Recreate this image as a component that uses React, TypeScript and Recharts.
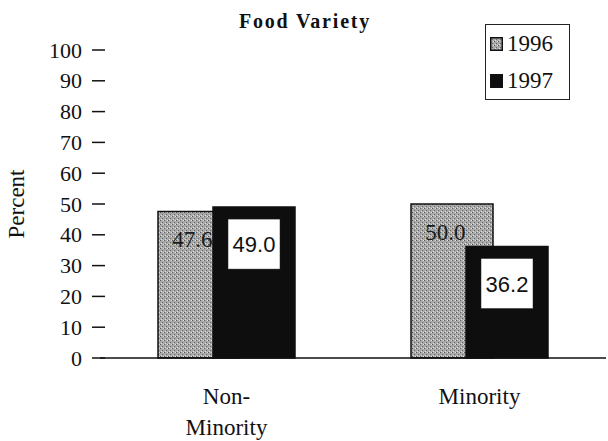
import { Bar, BarChart, Label, LabelList, Legend, XAxis, YAxis } from 'recharts'

const groups = ['Non-Minority', 'Minority']
const values1996 = [47.6, 50.0]
const values1997 = [49.0, 36.2]
const yTicks = [0, 10, 20, 30, 40, 50, 60, 70, 80, 90, 100]
const seriesNames = ['1996', '1997']

const SERIF = 'Liberation Serif'
const SANS = 'Liberation Sans'
const GRAY = '#9d9d9d'
const BLACK = '#0e0e0e'

const data = groups.map((g, i) => ({ group: g, y1996: values1996[i], y1997: values1997[i] }))

// y 눈금: 축 양쪽으로 걸친 짧은 가로선 + 오른쪽 정렬 숫자
function YTick(props: any) {
  const { x, y, payload } = props
  return (
    <g>
      <line x1={x - 8} x2={x + 5} y1={y} y2={y} stroke="#111" strokeWidth={1.5} />
      <text x={x - 18} y={y} dy={7.5} textAnchor="end" style={{ fontFamily: SERIF }} fontSize={22} fill="#111">
        {payload.value}
      </text>
    </g>
  )
}

// 카테고리 라벨: 하이픈 뒤에서 줄바꿈
function XTick(props: any) {
  const { x, y, payload } = props
  const s = String(payload.value)
  const k = s.indexOf('-')
  const lines = k >= 0 ? [s.slice(0, k + 1), s.slice(k + 1)] : [s]
  return (
    <g>
      {lines.map((ln, i) => (
        <text
          key={i}
          x={x}
          y={y + 46 + i * 31}
          textAnchor="middle"
          style={{ fontFamily: SERIF }}
          fontSize={23}
          fill="#111"
        >
          {ln}
        </text>
      ))}
    </g>
  )
}

function Label1996(props: any) {
  const { x, y, width, value } = props
  return (
    <text
      x={x + width * 0.42}
      y={y + 28}
      dy={8}
      textAnchor="middle"
      style={{ fontFamily: SERIF }}
      fontSize={23}
      fill="#1a1a1a"
    >
      {Number(value).toFixed(1)}
    </text>
  )
}

function Label1997(props: any) {
  const { x, y, width, value } = props
  const cx = x + width / 2
  return (
    <g>
      <rect x={cx - 26} y={y + 12} width={52} height={50} fill="#fff" stroke="#222" strokeWidth={0.5} />
      <text x={cx} y={y + 37} dy={8} textAnchor="middle" style={{ fontFamily: SANS }} fontSize={22} fill="#111">
        {Number(value).toFixed(1)}
      </text>
    </g>
  )
}

function LegendBox() {
  const colors = ['url(#dither)', BLACK]
  return (
    <div
      style={{
        width: 85,
        height: 76,
        border: '1px solid #222',
        background: '#fff',
        boxSizing: 'border-box',
      }}
    >
      {seriesNames.map((n, i) => (
        <div key={n} style={{ display: 'flex', alignItems: 'center', height: 37 }}>
          <svg width={13} height={14} style={{ marginLeft: 4, marginRight: 4 }}>
            <rect x={0.75} y={0.75} width={11.5} height={12.5} fill={colors[i]} stroke="#111" strokeWidth={1.5} />
          </svg>
          <span style={{ fontFamily: SERIF, fontSize: 23, color: '#111' }}>{n}</span>
        </div>
      ))}
    </div>
  )
}

export default function App() {
  return (
    <div style={{ position: 'absolute', left: 0, top: 0, width: 608, height: 441, background: '#fff' }}>
      <svg width={0} height={0} style={{ position: 'absolute' }}>
        <defs>
          {/* 스캔된 회색 망점 느낌 */}
          <pattern id="dither" width={4} height={4} patternUnits="userSpaceOnUse">
            <rect width={4} height={4} fill="#a9a9a9" />
            <rect x={0} y={0} width={1} height={1} fill="#555" />
            <rect x={2} y={2} width={1} height={1} fill="#666" />
            <rect x={3} y={0} width={1} height={1} fill="#e0e0e0" />
            <rect x={1} y={3} width={1} height={1} fill="#dcdcdc" />
          </pattern>
        </defs>
      </svg>
      <div
        style={{
          position: 'absolute',
          left: 205,
          top: 11,
          width: 200,
          textAlign: 'center',
          fontFamily: SERIF,
          fontWeight: 'bold',
          fontSize: 20,
          lineHeight: '20px',
          letterSpacing: 1.8,
          color: '#111',
        }}
      >
        Food Variety
      </div>
      <BarChart
        width={608}
        height={441}
        data={data}
        margin={{ top: 50, right: 2, bottom: 0, left: 0 }}
        barSize={82}
        barGap={-27}
      >
        <XAxis
          dataKey="group"
          height={83}
          tickLine={false}
          tickSize={0}
          tickMargin={0}
          axisLine={{ stroke: '#111', strokeWidth: 1.5 }}
          tick={<XTick />}
        />
        <YAxis
          width={100}
          domain={[0, 100]}
          ticks={yTicks}
          interval={0}
          axisLine={false}
          tickLine={false}
          tickSize={0}
          tickMargin={0}
          tick={<YTick />}
        >
          <Label
            content={(p: any) => {
              const vb = p.viewBox
              const cy = vb.y + vb.height / 2
              return (
                <text
                  x={16}
                  y={cy}
                  transform={`rotate(-90, 16, ${cy})`}
                  textAnchor="middle"
                  dominantBaseline="central"
                  style={{ fontFamily: SERIF }}
                  fontSize={23}
                  fill="#111"
                >
                  Percent
                </text>
              )
            }}
          />
        </YAxis>
        <Legend
          layout="vertical"
          align="center"
          verticalAlign="middle"
          content={<LegendBox />}
          wrapperStyle={{ position: 'absolute', left: 485, top: 24, width: 85 }}
        />
        <Bar dataKey="y1996" name="1996" fill="url(#dither)" stroke="#111" strokeWidth={1.5} isAnimationActive={false}>
          <LabelList dataKey="y1996" content={<Label1996 />} />
        </Bar>
        <Bar dataKey="y1997" name="1997" fill={BLACK} stroke="#111" strokeWidth={1.5} isAnimationActive={false}>
          <LabelList dataKey="y1997" content={<Label1997 />} />
        </Bar>
      </BarChart>
    </div>
  )
}
